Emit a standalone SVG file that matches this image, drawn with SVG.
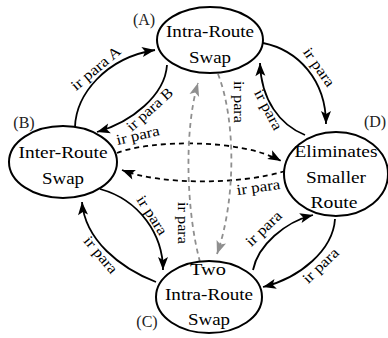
<svg xmlns="http://www.w3.org/2000/svg" width="388" height="338" viewBox="0 0 388 338">
  <style>
    .node ellipse { fill: #ffffff; stroke: #000000; stroke-width: 2; }
    .ntext { font-family: "Liberation Serif", "Times New Roman", serif; font-size: 17px; fill: #000000; text-anchor: middle; }
    .tag { font-family: "Liberation Serif", "Times New Roman", serif; font-size: 16px; fill: #222222; text-anchor: middle; }
    .elabel { font-family: "Liberation Serif", "Times New Roman", serif; font-size: 15px; fill: #000000; text-anchor: middle; }
    .solid { fill: none; stroke: #000000; stroke-width: 1.8; marker-end: url(#arrowBlack); }
    .dashed { fill: none; stroke: #000000; stroke-width: 1.8; stroke-dasharray: 5 4; marker-end: url(#arrowBlack); }
    .gray { fill: none; stroke: #8f8f8f; stroke-width: 1.8; stroke-dasharray: 5 4; marker-end: url(#arrowGray); }
  </style>
  <defs>
    <marker id="arrowBlack" markerUnits="userSpaceOnUse" viewBox="-14 -6 15 12" refX="0" refY="0" markerWidth="15" markerHeight="12" orient="auto">
      <path d="M0,0 L-13,-5 L-10,0 L-13,5 Z" fill="#000000"/>
    </marker>
    <marker id="arrowGray" markerUnits="userSpaceOnUse" viewBox="-14 -6 15 12" refX="0" refY="0" markerWidth="15" markerHeight="12" orient="auto">
      <path d="M0,0 L-13,-5 L-10,0 L-13,5 Z" fill="#8f8f8f"/>
    </marker>
  </defs>

  <rect width="388" height="338" fill="#ffffff"/>

  <!-- connectors -->
  <g id="connectors">
    <!-- B to A -->
    <path class="solid" d="M75,127 C76,95 105,58 155,50"/>
    <text class="elabel" transform="translate(99,72) rotate(-40)" textLength="60" lengthAdjust="spacingAndGlyphs">ir para A</text>
    <!-- A to B -->
    <path class="solid" d="M167,65 C165,95 132,122 97,132"/>
    <text class="elabel" transform="translate(153,113) rotate(-42)" textLength="57" lengthAdjust="spacingAndGlyphs">ir para B</text>
    <!-- A to D -->
    <path class="solid" d="M263,43 C298,50 326,80 326,124"/>
    <text class="elabel" transform="translate(315,70) rotate(55)" textLength="44" lengthAdjust="spacingAndGlyphs">ir para</text>
    <!-- D to A -->
    <path class="solid" d="M305,135 C280,125 261,100 260,63"/>
    <text class="elabel" transform="translate(264,112) rotate(62)" textLength="44" lengthAdjust="spacingAndGlyphs">ir para</text>
    <!-- B to D (dashed) -->
    <path class="dashed" d="M117,153 C150,140 240,138 281,161"/>
    <text class="elabel" transform="translate(139,140) rotate(-13)" textLength="44" lengthAdjust="spacingAndGlyphs">ir para</text>
    <!-- D to B (dashed) -->
    <path class="dashed" d="M285,171 C240,185 160,185 122,170"/>
    <text class="elabel" transform="translate(259,192) rotate(-8)" textLength="44" lengthAdjust="spacingAndGlyphs">ir para</text>
    <!-- A to C (grey dashed) -->
    <path class="gray" d="M218,74 C236,120 236,200 217,254"/>
    <text class="elabel" transform="translate(234,102) rotate(90)" textLength="42" lengthAdjust="spacingAndGlyphs">ir para</text>
    <!-- C to A (grey dashed) -->
    <path class="gray" d="M200,262 C186,210 184,130 198,83"/>
    <text class="elabel" transform="translate(178,223) rotate(90)" textLength="42" lengthAdjust="spacingAndGlyphs">ir para</text>
    <!-- B to C -->
    <path class="solid" d="M100,189 C140,200 163,235 163,270"/>
    <text class="elabel" transform="translate(148,218) rotate(57)" textLength="44" lengthAdjust="spacingAndGlyphs">ir para</text>
    <!-- C to B -->
    <path class="solid" d="M156,282 C120,268 85,240 82,202"/>
    <text class="elabel" transform="translate(97,258) rotate(50)" textLength="44" lengthAdjust="spacingAndGlyphs">ir para</text>
    <!-- C to D -->
    <path class="solid" d="M253,270 C258,245 285,222 313,215"/>
    <text class="elabel" transform="translate(267,232) rotate(-44)" textLength="44" lengthAdjust="spacingAndGlyphs">ir para</text>
    <!-- D to C -->
    <path class="solid" d="M335,219 C333,250 300,278 263,287"/>
    <text class="elabel" transform="translate(324,269) rotate(-44)" textLength="44" lengthAdjust="spacingAndGlyphs">ir para</text>
  </g>

  <!-- nodes -->
  <g id="nodeA" class="node">
    <ellipse cx="210" cy="40" rx="53" ry="33"/>
    <text class="ntext" x="210" y="37" textLength="88" lengthAdjust="spacingAndGlyphs">Intra-Route</text>
    <text class="ntext" x="210" y="63" textLength="42" lengthAdjust="spacingAndGlyphs">Swap</text>
    <text class="tag" x="144" y="25">(A)</text>
  </g>
  <g id="nodeB" class="node">
    <ellipse cx="63" cy="162" rx="54" ry="36"/>
    <text class="ntext" x="63" y="158" textLength="89" lengthAdjust="spacingAndGlyphs">Inter-Route</text>
    <text class="ntext" x="63" y="184" textLength="42" lengthAdjust="spacingAndGlyphs">Swap</text>
    <text class="tag" x="24" y="128">(B)</text>
  </g>
  <g id="nodeC" class="node">
    <ellipse cx="209" cy="297" rx="53" ry="36"/>
    <text class="ntext" x="208" y="275" textLength="36" lengthAdjust="spacingAndGlyphs">Two</text>
    <text class="ntext" x="209" y="300" textLength="88" lengthAdjust="spacingAndGlyphs">Intra-Route</text>
    <text class="ntext" x="209" y="325" textLength="42" lengthAdjust="spacingAndGlyphs">Swap</text>
    <text class="tag" x="147" y="327">(C)</text>
  </g>
  <g id="nodeD" class="node">
    <ellipse cx="336" cy="174" rx="52" ry="42"/>
    <text class="ntext" x="336" y="157" textLength="83" lengthAdjust="spacingAndGlyphs">Eliminates</text>
    <text class="ntext" x="336" y="183" textLength="60" lengthAdjust="spacingAndGlyphs">Smaller</text>
    <text class="ntext" x="334" y="208" textLength="47" lengthAdjust="spacingAndGlyphs">Route</text>
    <text class="tag" x="375" y="127">(D)</text>
  </g>
</svg>
